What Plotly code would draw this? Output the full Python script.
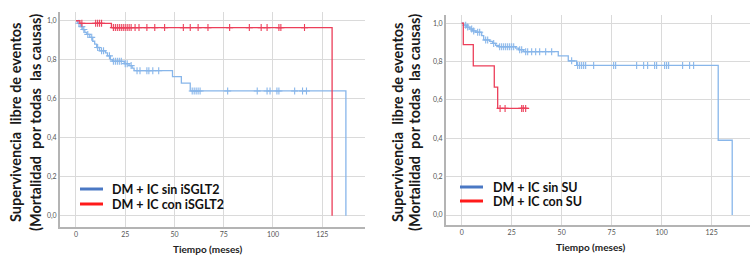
import numpy as np
import plotly.graph_objects as go

W, H = 750, 263

# ---------------- data ----------------
# Left panel: DM + IC sin / con iSGLT2
l_sin_t = [0, 0.8, 2.2, 3.5, 4.5, 5.5, 7.0, 8.5, 9.5, 10.5, 12.0, 15.0, 16.0, 17.5, 18.5,
           24.5, 27.0, 28.5, 29.5, 49.0, 53.5, 58.0, 137.0]
l_sin_s = [1.0, 0.987, 0.97, 0.955, 0.94, 0.93, 0.915, 0.895, 0.88, 0.863, 0.846, 0.835, 0.82,
           0.80, 0.792, 0.78, 0.77, 0.757, 0.744, 0.713, 0.68, 0.64, 0.0]
l_sin_c = [1.5, 3, 4, 6, 8, 11, 13, 14, 17, 19, 20, 21, 22, 23, 25, 26, 28, 31, 32.5, 36, 37,
           39, 42, 59, 60, 61, 62, 63, 77, 92, 97, 98.5, 102, 103, 111, 115, 117]
l_con_t = [0, 2.0, 18.0, 130.0]
l_con_s = [1.0, 0.987, 0.965, 0.0]
l_con_c = [3, 10, 11, 12, 13, 19, 20, 21, 22, 23, 24, 25, 26, 27, 28, 30, 32, 36, 40, 45,
           54.5, 58, 62, 67, 78, 88, 94, 97, 103, 104, 116]

# Right panel: DM + IC sin / con SU
r_sin_t = [0, 1.0, 2.5, 4.0, 5.5, 7.0, 10.0, 11.0, 14.0, 15.5, 17.0, 18.5, 27.0, 28.5, 31.0,
           48.3, 53.3, 57.5, 128.3, 135.3]
r_sin_s = [1.0, 0.99, 0.98, 0.97, 0.96, 0.953, 0.935, 0.913, 0.905, 0.895, 0.885, 0.878, 0.87,
           0.862, 0.852, 0.83, 0.804, 0.78, 0.39, 0.0]
r_sin_c = [2, 3, 5, 6, 8, 9, 12, 13, 16, 19, 20, 21, 22, 23, 24, 25, 26, 29, 30, 32, 33, 35,
           37, 39, 42, 45, 55, 58, 59, 60, 61, 62, 66, 76, 77, 87.5, 91, 93, 96.5, 97.5, 101.5,
           102.5, 103.5, 110.5, 114, 116]
r_con_t = [0, 0.8, 5.8, 16.3, 18.0]
r_con_s = [1.0, 0.889, 0.778, 0.667, 0.556]
r_con_end = 33.3
r_con_c = [19.2, 21.7, 30, 30.8, 32]

x_ticks = [0, 25, 50, 75, 100, 125]
x_ticktext = ["0", "25", "50", "75", "100", "125"]
y_ticks = [0.0, 0.2, 0.4, 0.6, 0.8, 1.0]
y_ticktext = ["0,0", "0,2", "0,4", "0,6", "0,8", "1,0"]

legend_left = ["DM + IC sin iSGLT2", "DM + IC con iSGLT2"]
legend_right = ["DM + IC sin SU", "DM + IC con SU"]
ytitle1 = "Supervivencia  libre de eventos"
ytitle2 = "(Mortalidad  por todas  las causas)"
xtitle = "Tiempo (meses)"

BLUE = "#88b6ea"
RED = "#ec3f5a"
LEG_BLUE = "#4a78c4"
LEG_RED = "#ff1a1a"
FONT = "Lato"


def step_value(t, s, c):
    t = np.asarray(t, float)
    s = np.asarray(s, float)
    idx = np.searchsorted(t, np.asarray(c, float), side="right") - 1
    return s[idx]


fig = go.Figure()


def add_curve(t, s, c, color, xa, ya, end=None):
    tt = list(t)
    ss = list(s)
    if end is not None:
        tt.append(end)
        ss.append(ss[-1])
    fig.add_trace(go.Scatter(x=tt, y=ss, mode="lines", line=dict(color=color, width=1.3, shape="hv"),
                             xaxis=xa, yaxis=ya, showlegend=False, hoverinfo="skip"))
    fig.add_trace(go.Scatter(x=c, y=step_value(t, s, c), mode="markers",
                             marker=dict(symbol="cross-thin", size=5, line=dict(color=color, width=1.1)),
                             xaxis=xa, yaxis=ya, showlegend=False, hoverinfo="skip"))


add_curve(l_sin_t, l_sin_s, l_sin_c, BLUE, "x", "y")
add_curve(l_con_t, l_con_s, l_con_c, RED, "x", "y")
add_curve(r_sin_t, r_sin_s, r_sin_c, BLUE, "x2", "y2")
add_curve(r_con_t, r_con_s, r_con_c, RED, "x2", "y2", end=r_con_end)


def px(x):
    return x / W


def py(y):
    return 1 - y / H


axis_common = dict(showgrid=True, gridcolor="#dadada", gridwidth=1.3, showline=True,
                   linecolor="#b4b4b4", linewidth=2, zeroline=False, ticks="",
                   tickfont=dict(family=FONT, size=7, color="#555555"))

fig.update_layout(
    width=W, height=H, margin=dict(l=0, r=0, t=0, b=0),
    paper_bgcolor="white", plot_bgcolor="white", showlegend=False,
    xaxis=dict(domain=[px(60), px(365)], range=[-8.1, 146.7], anchor="y",
               tickvals=x_ticks, ticktext=x_ticktext, **axis_common),
    yaxis=dict(domain=[py(227), py(12)], range=[-0.058, 1.045], anchor="x",
               tickvals=y_ticks, ticktext=y_ticktext, **axis_common),
    xaxis2=dict(domain=[px(446), 1.0], range=[-7.85, 144.2], anchor="y2",
                tickvals=x_ticks, ticktext=x_ticktext, **axis_common),
    yaxis2=dict(domain=[py(225), py(15)], range=[-0.052, 1.043], anchor="x2",
                tickvals=y_ticks, ticktext=y_ticktext, **axis_common),
)

ann = []
shapes = []
# y-axis titles
for (x1, x2, yc) in [(15, 35, 123), (397, 414, 123)]:
    for xx, txt in [(x1, ytitle1), (x2, ytitle2)]:
        ann.append(dict(text=txt, x=px(xx), y=py(yc), xref="paper", yref="paper", textangle=-90,
                        xanchor="center", yanchor="middle", showarrow=False,
                        font=dict(family=FONT, size=14.5, color="#1a1a1a", weight="bold")))
# x-axis titles
for xc, yc in [(207, 249), (590, 247)]:
    ann.append(dict(text=xtitle, x=px(xc), y=py(yc), xref="paper", yref="paper", showarrow=False,
                    xanchor="center", yanchor="middle",
                    font=dict(family=FONT, size=10, color="#222222", weight="bold")))
# legends
for (lx0, lx1, tx, ys, labels) in [(80, 103, 110, (189, 204), legend_left),
                                    (460, 483, 491, (187, 201), legend_right)]:
    for yy, lab, col in zip(ys, labels, [LEG_BLUE, LEG_RED]):
        shapes.append(dict(type="line", xref="paper", yref="paper", x0=px(lx0), x1=px(lx1),
                           y0=py(yy), y1=py(yy), line=dict(color=col, width=3)))
        ann.append(dict(text=lab, x=px(tx), y=py(yy), xref="paper", yref="paper", xanchor="left",
                        yanchor="middle", showarrow=False,
                        font=dict(family=FONT, size=12.5, color="#111111", weight="bold")))

fig.update_layout(annotations=ann, shapes=shapes)
fig.write_html("out.html", config={"displayModeBar": False},
               post_script="document.body.style.margin='0';document.body.style.overflow='hidden';")
